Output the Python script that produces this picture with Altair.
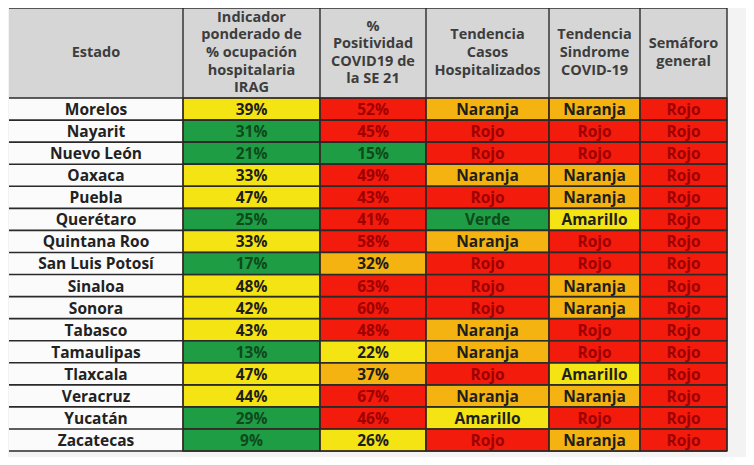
import altair as alt
import pandas as pd

# ---------------- data ----------------
estados = ["Morelos", "Nayarit", "Nuevo León", "Oaxaca", "Puebla", "Querétaro",
           "Quintana Roo", "San Luis Potosí", "Sinaloa", "Sonora", "Tabasco",
           "Tamaulipas", "Tlaxcala", "Veracruz", "Yucatán", "Zacatecas"]
irag = [39, 31, 21, 33, 47, 25, 33, 17, 48, 42, 43, 13, 47, 44, 29, 9]
irag_nivel = ["Amarillo", "Verde", "Verde", "Amarillo", "Amarillo", "Verde", "Amarillo", "Verde",
              "Amarillo", "Amarillo", "Amarillo", "Verde", "Amarillo", "Amarillo", "Verde", "Verde"]
positividad = [52, 45, 15, 49, 43, 41, 58, 32, 63, 60, 48, 22, 37, 67, 46, 26]
positividad_nivel = ["Rojo", "Rojo", "Verde", "Rojo", "Rojo", "Rojo", "Rojo", "Naranja",
                     "Rojo", "Rojo", "Rojo", "Amarillo", "Naranja", "Rojo", "Rojo", "Amarillo"]
casos = ["Naranja", "Rojo", "Rojo", "Naranja", "Rojo", "Verde", "Naranja", "Rojo",
         "Rojo", "Rojo", "Naranja", "Naranja", "Rojo", "Naranja", "Amarillo", "Rojo"]
sindrome = ["Naranja", "Rojo", "Rojo", "Naranja", "Naranja", "Amarillo", "Rojo", "Rojo",
            "Naranja", "Naranja", "Rojo", "Rojo", "Amarillo", "Naranja", "Rojo", "Naranja"]
semaforo = ["Rojo"] * 16

encabezados = ["Estado",
               "Indicador\nponderado de\n% ocupación\nhospitalaria\nIRAG",
               "%\nPositividad\nCOVID19 de\nla SE 21",
               "Tendencia\nCasos\nHospitalizados",
               "Tendencia\nSindrome\nCOVID-19",
               "Semáforo\ngeneral"]

# ---------------- layout ----------------
col_widths = [174, 137, 106, 123, 91, 87]
header_rows = 4.08
px_per_row = 449 / 20.35
line_h = 17.6
n = len(estados)
bounds = [0]
for w in col_widths:
    bounds.append(bounds[-1] + w)

niveles = ["Rojo", "Naranja", "Amarillo", "Verde", "Blanco", "Gris"]
fills = ["#f21b0c", "#f5b311", "#f5e414", "#1f9d45", "#fbfbfb", "#d6d6d6"]
text_rng = ["#9e0000", "#1e1e1e", "#1e1e1e", "#0e4a1c", "#222222", "#3d3d3d"]

rows = []
columns = [
    [(e, "Blanco") for e in estados],
    [(f"{v}%", c) for v, c in zip(irag, irag_nivel)],
    [(f"{v}%", c) for v, c in zip(positividad, positividad_nivel)],
    [(v, v) for v in casos],
    [(v, v) for v in sindrome],
    [(v, v) for v in semaforo],
]
for ci, col in enumerate(columns):
    for ri, (label, nivel) in enumerate(col):
        rows.append(dict(x0=bounds[ci], x1=bounds[ci + 1], xc=(bounds[ci] + bounds[ci + 1]) / 2,
                         y0=header_rows + ri, y1=header_rows + ri + 1,
                         yc=header_rows + ri + 0.5, label=label, nivel=nivel, col=ci))
cells = pd.DataFrame(rows)

hdr_rows = []
for i, h in enumerate(encabezados):
    nl = h.count("\n") + 1
    first = header_rows / 2 - (nl - 1) * line_h / 2 / px_per_row
    hdr_rows.append(dict(x0=bounds[i], x1=bounds[i + 1], xc=(bounds[i] + bounds[i + 1]) / 2,
                         y0=0, y1=header_rows, yc=first, label=h, nivel="Gris"))
hdr = pd.DataFrame(hdr_rows)

x_scale = alt.Scale(domain=[-1, 737], zero=False, nice=False)
y_scale = alt.Scale(domain=[0, 20.35], zero=False, nice=False, reverse=True)
fill_scale = alt.Scale(domain=niveles, range=fills)
text_scale = alt.Scale(domain=niveles, range=text_rng)

X = lambda f: alt.X(f, type="quantitative", scale=x_scale, axis=None)
Y = lambda f: alt.Y(f, type="quantitative", scale=y_scale, axis=None)

header_rect = alt.Chart(hdr).mark_rect().encode(
    x=X("x0"), x2="x1", y=Y("y0"), y2="y1",
    fill=alt.Fill("nivel:N", scale=fill_scale, legend=None))

body_white = alt.Chart(cells[cells.col == 0]).mark_rect().encode(
    x=X("x0"), x2="x1", y=Y("y0"), y2="y1",
    fill=alt.Fill("nivel:N", scale=fill_scale, legend=None))

body_color = alt.Chart(cells[cells.col > 0]).mark_rect(stroke="#5a1a08", strokeWidth=1.2).encode(
    x=X("x0"), x2="x1", y=Y("y0"), y2="y1",
    fill=alt.Fill("nivel:N", scale=fill_scale, legend=None))

# grid lines
hlines = pd.DataFrame(dict(y=[0, header_rows] + [header_rows + i + 1 for i in range(n)],
                           x0=0, x1=bounds[-1]))
vlines = pd.DataFrame(dict(x=bounds[1:], y0=0, y1=header_rows + n))

hrules = alt.Chart(hlines).mark_rule(color="#2a2a2a", strokeWidth=1.6).encode(
    x=X("x0"), x2="x1", y=Y("y"))
vrules = alt.Chart(vlines).mark_rule(color="#2a2a2a", strokeWidth=1.4).encode(
    x=X("x"), y=Y("y0"), y2="y1")

header_text = alt.Chart(hdr).mark_text(
    font="Open Sans", fontWeight="bold", fontSize=14.5, lineBreak="\n",
    lineHeight=line_h, baseline="middle", align="center").encode(
    x=X("xc"), y=Y("yc"), text="label:N",
    color=alt.Color("nivel:N", scale=text_scale, legend=None))

body_text = alt.Chart(cells).mark_text(
    font="Open Sans", fontWeight="bold", fontSize=15.5, dy=1,
    baseline="middle", align="center").encode(
    x=X("xc"), y=Y("yc"), text="label:N",
    color=alt.Color("nivel:N", scale=text_scale, legend=None))

chart = alt.layer(header_rect, body_white, body_color, hrules, vrules,
                  header_text, body_text).resolve_scale(color="independent", fill="independent").properties(
    width=738, height=449, padding=0, autosize=alt.AutoSizeParams(type="none"),
    background="#f3f3f3").configure_view(stroke=None)

chart.save("out.html", embed_options={"renderer": "svg", "actions": False})
